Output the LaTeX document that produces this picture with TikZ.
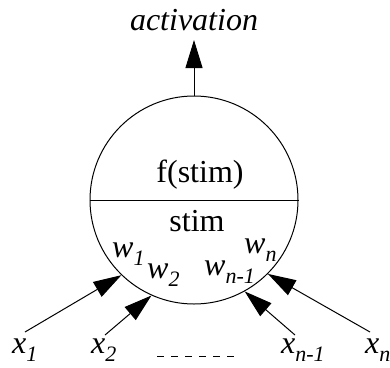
\documentclass[tikz,border=0pt]{standalone}
\usepackage{fontspec}
\setmainfont{Liberation Serif}
\usetikzlibrary{arrows.meta}
\newcommand{\lowsub}[2]{#1\raisebox{-8pt}[\height][0pt]{\fontsize{22}{22}\selectfont #2}}
\tikzset{
  lbl/.style={font=\fontsize{32}{32}\selectfont\itshape, inner sep=0pt, anchor=base west},
  txt/.style={font=\fontsize{32}{32}\selectfont, inner sep=0pt, anchor=base},
  inarrow/.style={line width=1pt, -{Triangle[length=28pt,width=17pt]}},
}
\begin{document}
\begin{tikzpicture}[x=1pt,y=-1pt]
\useasboundingbox (0,0) rectangle (390,367);
\node[circle, draw, line width=1pt, minimum size=208pt, inner sep=0pt] (c) at (194,200) {};
\draw[line width=1pt] (c.west) -- (c.east);
\node[txt] (f) at (200,182) {f(stim)};
\node[txt] (s) at (197,231) {stim};
\node[lbl, anchor=base] (act) at (194,30) {activation};
\coordinate (top) at (194,40);
\draw[inarrow] (c.north) -- (top);
\node[lbl] (w1) at (112,257) {\lowsub{w}{1}};
\node[lbl] (w2) at (147,278) {\lowsub{w}{2}};
\node[lbl] (wn1) at (204,275) {\lowsub{w}{n-1}};
\node[lbl] (wn) at (244,253) {\lowsub{w}{n}};
\node[lbl] (x1) at (12,353) {\lowsub{x}{1}};
\node[lbl] (x2) at (91,353) {\lowsub{x}{2}};
\node[lbl] (xn1) at (281,353) {\lowsub{x}{n-1}};
\node[lbl] (xn) at (365,353) {\lowsub{x}{n}};
\coordinate (t1) at (25,332);
\coordinate (t2) at (105,335);
\coordinate (tn1) at (295,335);
\coordinate (tn) at (370,332);
\draw[inarrow] (t1) -- (c.226.6);
\draw[inarrow] (t2) -- (c.246);
\draw[inarrow] (tn1) -- (c.299);
\draw[inarrow] (tn) -- (c.315.4);
\coordinate (d1) at (157,356);
\coordinate (d2) at (235,356);
\draw[line width=1pt, dash pattern=on 7pt off 7pt] (d1) -- (d2);
\end{tikzpicture}
\end{document}
